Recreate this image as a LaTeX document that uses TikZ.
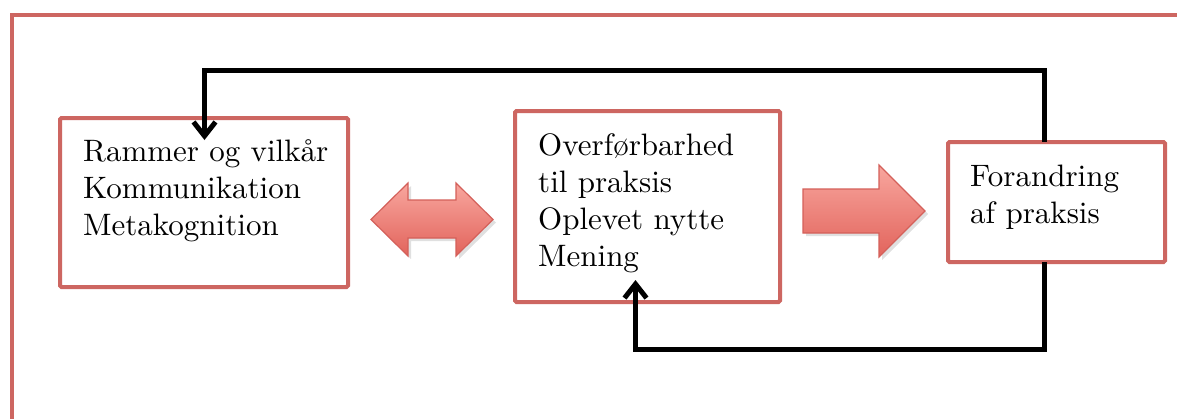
\documentclass[tikz,border=0pt]{standalone}
\usepackage{fontspec}
% design size 10 scaled up, for its wider, heavier letters
\setmainfont{lmroman10-regular}[Extension=.otf]
\usetikzlibrary{arrows.meta}
\definecolor{boxred}{RGB}{205,102,97}
\definecolor{arrtop}{RGB}{248,166,158}
\definecolor{arrbot}{RGB}{226,100,92}
\definecolor{arrline}{RGB}{212,96,90}
\tikzset{
  frameline/.style={draw=boxred, line width=4pt},
  stagebox/.style={draw=boxred, line width=4pt, rounded corners=1.5pt, fill=white,
    inner sep=0pt, outer sep=0pt},
  % base anchor of a multi-line node sits on its last line
  stagetext/.style={inner sep=0pt, align=left, anchor=base west,
    font=\fontsize{31}{37}\selectfont},
  blockarrow/.style={top color=arrtop, bottom color=arrbot, draw=arrline,
    line width=1.2pt, line join=miter},
  blockshadow/.style={fill=black, opacity=0.12},
  feedback/.style={draw=black, line width=5pt,
    -{Straight Barb[length=14pt,width=22pt]}},
}
\begin{document}
\begin{tikzpicture}[x=1pt, y=-1pt]
  \useasboundingbox (0,0) rectangle (1177,418);
  \clip (0,0) rectangle (1177,418);
  \fill[white] (0,0) rectangle (1177,418);

  % outer frame, running off the right and bottom edges
  \draw[frameline] (12,440) -- (12,15) -- (1200,15);

  % the three stages
  \node[stagebox, minimum width=288pt, minimum height=169pt] (b1) at (204,202.5) {};
  \node[stagebox, minimum width=265pt, minimum height=191pt] (b2) at (647.5,206.5) {};
  \node[stagebox, minimum width=217pt, minimum height=120pt] (b3) at (1056.5,202) {};

  \node[stagetext] (t1) at (83,235) {Rammer og vilkår\\Kommunikation\\Metakognition};
  \node[stagetext] (t2) at (538,266) {Overførbarhed\\til praksis\\Oplevet nytte\\Mening};
  \node[stagetext] (t3) at (970,223) {Forandring\\af praksis};

  % block arrows between the stages
  \fill[blockshadow] (374,222.5) -- (411,186) -- (411,203) -- (459,203) -- (459,186)
    -- (496,222.5) -- (459,259) -- (459,241) -- (411,241) -- (411,259) -- cycle;
  \shade[blockarrow] (371,219.5) -- (408,183) -- (408,200) -- (456,200) -- (456,183)
    -- (493,219.5) -- (456,256) -- (456,238) -- (408,238) -- (408,256) -- cycle;

  \fill[blockshadow] (806,192) -- (882,192) -- (882,168) -- (928,214) -- (882,260)
    -- (882,236) -- (806,236) -- cycle;
  \shade[blockarrow] (803,189) -- (879,189) -- (879,165) -- (925,211) -- (879,257)
    -- (879,233) -- (803,233) -- cycle;

  % feedback loops
  \coordinate (e1) at (204.5,140);
  \coordinate (e2) at (635.5,280);
  \draw[feedback] ([xshift=-12.5pt]b3.north) -- ++(0,-71.5) -| (e1);
  \draw[feedback] ([xshift=-12.5pt]b3.south) -- ++(0,87.5) -| (e2);
\end{tikzpicture}
\end{document}
